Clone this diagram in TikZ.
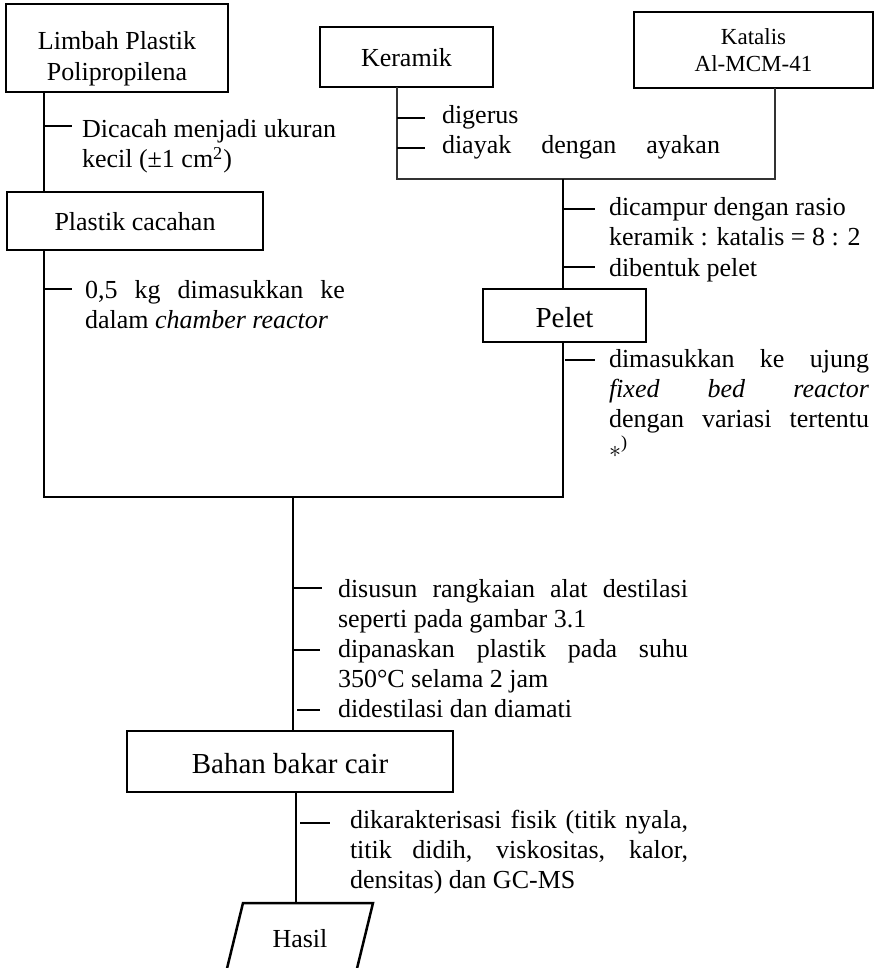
\documentclass[tikz,border=0pt]{standalone}
\usepackage{fontspec}
\setmainfont{Liberation Serif}
\begin{document}
\begin{tikzpicture}[x=0.5pt,y=-0.5pt,
  box/.style={draw, line width=1.25pt, inner sep=0pt, outer sep=0pt},
  conn/.style={line width=0.65pt},
  thinconn/.style={line width=0.6pt, draw=black!80},
  txt/.style={inner sep=0pt, outer sep=0pt, anchor=base west, font=\fontsize{13}{15}\selectfont},
  ctxt/.style={inner sep=0pt, outer sep=0pt, anchor=base, font=\fontsize{13}{15}\selectfont},
  bigtxt/.style={inner sep=0pt, outer sep=0pt, anchor=base, font=\fontsize{14.5}{17}\selectfont},
  smalltxt/.style={inner sep=0pt, outer sep=0pt, anchor=base, font=\fontsize{11.5}{13}\selectfont}]
\useasboundingbox (0,0) rectangle (877,968);

% ---------- boxes ----------
\node[box, minimum width=111pt, minimum height=44pt] (limbah) at (117,48) {};
\node[ctxt] (limbahA) at (117,50) {Limbah Plastik};
\node[ctxt] (limbahB) at (117,81) {Polipropilena};

\node[box, minimum width=86.5pt, minimum height=30pt] (keramik) at (406.5,57) {};
\node[ctxt] (keramikT) at (406.5,67) {Keramik};

\node[box, minimum width=119.5pt, minimum height=38pt] (katalis) at (753.5,50) {};
\node[smalltxt] (katalisA) at (753.5,45) {Katalis};
\node[smalltxt] (katalisB) at (753.5,72) {Al-MCM-41};

\node[box, minimum width=128pt, minimum height=29pt] (cacah) at (135,221) {};
\node[ctxt] (cacahT) at (135,230) {Plastik cacahan};

\node[box, minimum width=81.5pt, minimum height=26.5pt] (pelet) at (564.5,315.5) {};
\node[bigtxt] (peletT) at (564.5,327) {Pelet};

\node[box, minimum width=163pt, minimum height=30.5pt] (bahan) at (290,761.5) {};
\node[bigtxt] (bahanT) at (290,773) {Bahan bakar cair};

% Hasil (parallelogram, cut by page edge)
\coordinate (hA) at (243,903);
\coordinate (hB) at (373,903);
\coordinate (hC) at (351,993);
\coordinate (hD) at (221,993);
\draw[line width=1.25pt] (hA) -- (hB) -- (hC) -- (hD) -- cycle;
\coordinate (hasilTop) at (296,903);
\node[ctxt] (hasil) at (300,947) {Hasil};

% ---------- line positions ----------
\coordinate (xA) at (44,0);
\coordinate (jL) at (44,497);
\coordinate (jR) at (563,497);
\coordinate (jM) at (293,497);
\coordinate (kJ) at (397,179);
\coordinate (aJ) at (775,179);
\coordinate (mJ) at (563,179);
\coordinate (hX) at (296,0);

% ---------- connectors ----------
\draw[conn] (limbah.south -| xA) -- (cacah.north -| xA);
\draw[conn] (cacah.south -| xA) -- (jL) -- (jR) -- (pelet.south -| jR);
\draw[conn] (jM) -- (bahan.north -| jM);
\draw[thinconn] (keramik.south -| kJ) -- (kJ) -- (aJ) -- (katalis.south -| aJ);
\draw[conn] (mJ) -- (pelet.north -| mJ);
\draw[conn] (bahan.south -| hX) -- (hasilTop);

% ---------- ticks ----------
\draw[conn] (44,126) -- ++(28,0);
\draw[conn] (44,289) -- ++(28,0);
\draw[conn] (397,118) -- ++(28,0);
\draw[conn] (397,148) -- ++(28,0);
\draw[conn] (563,209) -- ++(32,0);
\draw[conn] (563,267) -- ++(32,0);
\draw[conn] (565,360) -- ++(30,0);
\draw[conn] (293,588) -- ++(29,0);
\draw[conn] (292,650) -- ++(28,0);
\draw[conn] (297,710) -- ++(23,0);
\draw[conn] (300,823) -- ++(30,0);

% ---------- texts ----------
\node[txt] (d1) at (82,138) {Dicacah menjadi ukuran};
\node[txt] (d2) at (82,168) {kecil (±1 cm\textsuperscript{2})};

\node[txt] (m1) at (85,298) {\makebox[130pt][s]{0,5 kg dimasukkan ke}};
\node[txt] (m2) at (85,328) {dalam \textit{chamber reactor}};

\node[txt] (g1) at (442,124) {digerus};
\node[txt] (g2) at (442,154) {\makebox[139pt][s]{diayak dengan ayakan}};

\node[txt] (c1) at (609,215) {dicampur dengan rasio};
\node[txt] (c2) at (609,245) {keramik : katalis = 8 : 2};
\node[txt] (c3) at (609,276) {dibentuk pelet};

\node[txt] (p1) at (609,367) {\makebox[130pt][s]{dimasukkan ke ujung}};
\node[txt] (p2) at (609,397) {\makebox[130pt][s]{\textit{fixed} \textit{bed} \textit{reactor}}};
\node[txt] (p3) at (609,427) {\makebox[130pt][s]{dengan variasi tertentu}};
\node[txt] (p4) at (609,457) {$\ast$\textsuperscript{)}};

\node[txt] (s1) at (338,597) {\makebox[175pt][s]{disusun rangkaian alat destilasi}};
\node[txt] (s2) at (338,627) {seperti pada gambar 3.1};
\node[txt] (s3) at (338,657) {\makebox[175pt][s]{dipanaskan plastik pada suhu}};
\node[txt] (s4) at (338,687) {350°C selama 2 jam};
\node[txt] (s5) at (338,717) {didestilasi dan diamati};

\node[txt] (k1) at (350,828) {\makebox[169pt][s]{dikarakterisasi fisik (titik nyala,}};
\node[txt] (k2) at (350,858) {\makebox[169pt][s]{titik didih, viskositas, kalor,}};
\node[txt] (k3) at (350,888) {densitas) dan GC-MS};
\end{tikzpicture}
\end{document}
